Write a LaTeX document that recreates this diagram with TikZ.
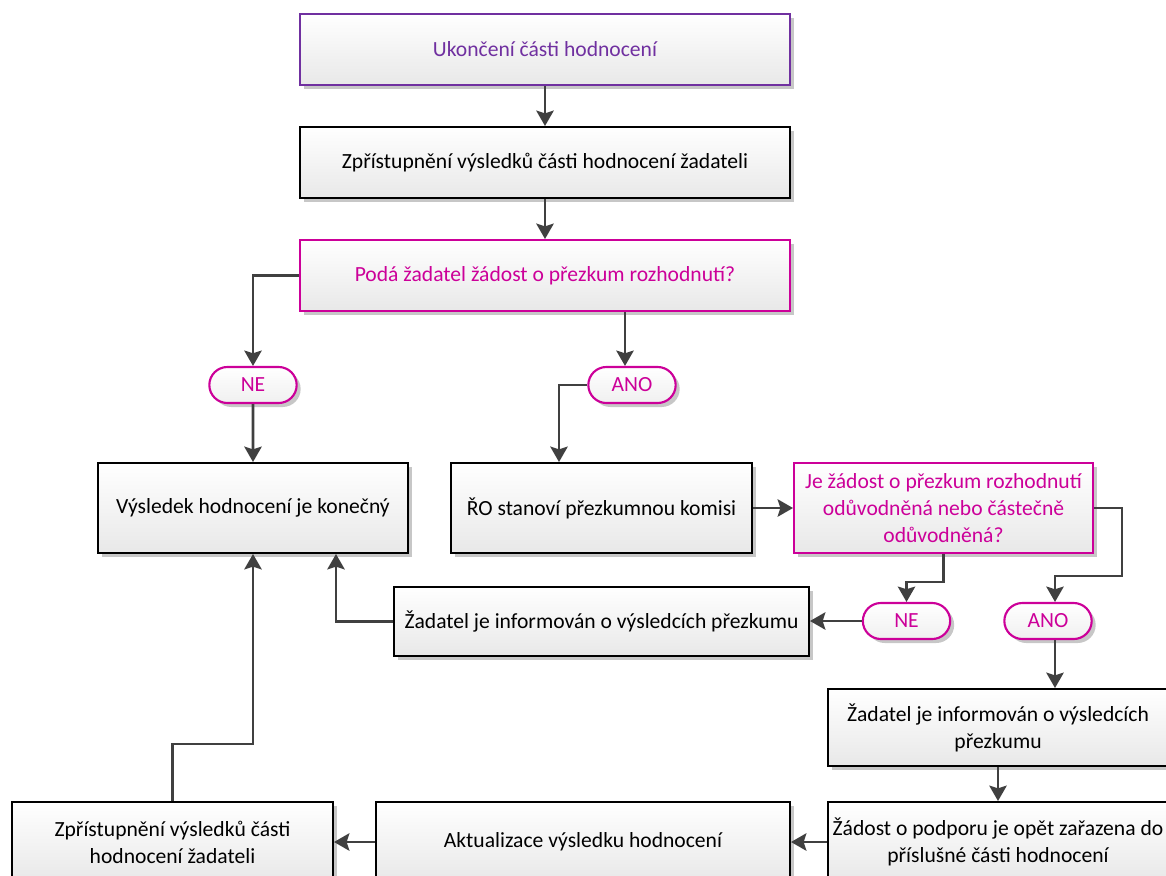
\documentclass[tikz,border=0pt]{standalone}
\usepackage{fontspec}
\setmainfont{Carlito}
\usetikzlibrary{arrows.meta,shadows,shapes.misc}
\definecolor{plum}{RGB}{112,48,160}
\definecolor{magen}{RGB}{204,0,153}
\definecolor{linegray}{RGB}{64,64,64}
\tikzset{
  basebox/.style={rectangle, draw, line width=1.5pt, top color=white, bottom color=black!9,
    align=center, inner sep=2pt, font=\fontsize{16.2}{20.25}\selectfont,
    drop shadow={shadow xshift=3pt, shadow yshift=-3pt, fill=black!22, opacity=1}},
  stepbox/.style={basebox, draw=black, text=black},
  startbox/.style={basebox, draw=plum, text=plum},
  askbox/.style={basebox, draw=magen, text=magen},
  pill/.style={rounded rectangle, draw=magen, text=magen, line width=1.6pt,
    top color=white, bottom color=black!6, minimum width=67.5pt, minimum height=27pt,
    inner sep=1pt, font=\fontsize{16.2}{20.25}\selectfont,
    drop shadow={shadow xshift=3pt, shadow yshift=-3pt, fill=black!22, opacity=1}},
  arr/.style={draw=linegray, line width=2pt, -{Stealth[width=13pt,length=11.5pt,inset=2pt]}}
}
\begin{document}
\begin{tikzpicture}[x=0.75pt,y=-0.75pt]
\useasboundingbox (0,0) rectangle (1166,875);

% main column
\node[startbox, minimum width=367.5pt, minimum height=53.25pt] (top) at (545,49.5) {Ukončení části hodnocení};
\node[stepbox, minimum width=367.5pt, minimum height=53.25pt] (acc) at (545,162.5) {Zpřístupnění výsledků části hodnocení žadateli};
\node[askbox, minimum width=367.5pt, minimum height=53.25pt] (q1) at (545,275.5) {Podá žadatel žádost o přezkum rozhodnutí?};

\node[pill] (ne1) at (253,385) {NE};
\node[pill] (ano1) at (632,385) {ANO};

\node[stepbox, minimum width=232.5pt, minimum height=67.5pt] (fin) at (253,508) {Výsledek hodnocení je konečný};
\node[stepbox, minimum width=225.75pt, minimum height=67.5pt] (rev) at (601.5,508) {ŘO stanoví přezkumnou komisi};
\node[askbox, minimum width=224.25pt, minimum height=67.5pt] (q2) at (943.5,508) {Je žádost o přezkum rozhodnutí\\odůvodněná nebo částečně\\odůvodněná?};

\node[stepbox, minimum width=311.25pt, minimum height=51.75pt] (inf1) at (601.5,621.5) {Žadatel je informován o výsledcích přezkumu};
\node[pill] (ne2) at (906.5,621) {NE};
\node[pill] (ano2) at (1048,621) {ANO};

\node[stepbox, minimum width=255pt, minimum height=57.75pt] (inf2) at (998,727.5) {Žadatel je informován o výsledcích\\přezkumu};
\node[stepbox, minimum width=255pt, minimum height=60pt] (re) at (998,842) {Žádost o podporu je opět zařazena do\\příslušné části hodnocení};
\node[stepbox, minimum width=310.5pt, minimum height=60pt] (upd) at (583,842) {Aktualizace výsledku hodnocení};
\node[stepbox, minimum width=240.75pt, minimum height=60pt] (pub) at (172.5,842) {Zpřístupnění výsledků části\\hodnocení žadateli};

% routing lanes
\coordinate (xa) at (625,0);
\coordinate (xb) at (559,0);
\coordinate (k1) at (1122,576);
\coordinate (k2) at (1055,576);
\coordinate (xe) at (336,0);

% connectors
\draw[arr] (top) -- (acc);
\draw[arr] (acc) -- (q1);
\draw[arr] (q1.west) -| (ne1.north);
\draw[arr] (q1.south -| xa) -- (ano1.north -| xa);
\draw[arr] (ano1.west) -| (xb |- rev.north);
\draw[arr] (ne1) -- (fin);
\draw[arr] (rev) -- (q2);
\draw[arr] (q2.south) -- ++(0,28) -| (ne2.north);
\draw[arr] (q2.east) -| (k1) -- (k2) -- (k2 |- ano2.north);
\draw[arr] (ne2.west) -- (ne2.west -| inf1.east);
\draw[arr] (inf1.west) -| (xe |- fin.south);
\draw[arr] (ano2.south -| k2) -- (inf2.north -| k2);
\draw[arr] (inf2) -- (re);
\draw[arr] (re.west) -- (upd.east);
\draw[arr] (upd.west) -- (pub.east);
\draw[arr] (pub.north) -- ++(0,-57) -| (fin.south);
\end{tikzpicture}
\end{document}
